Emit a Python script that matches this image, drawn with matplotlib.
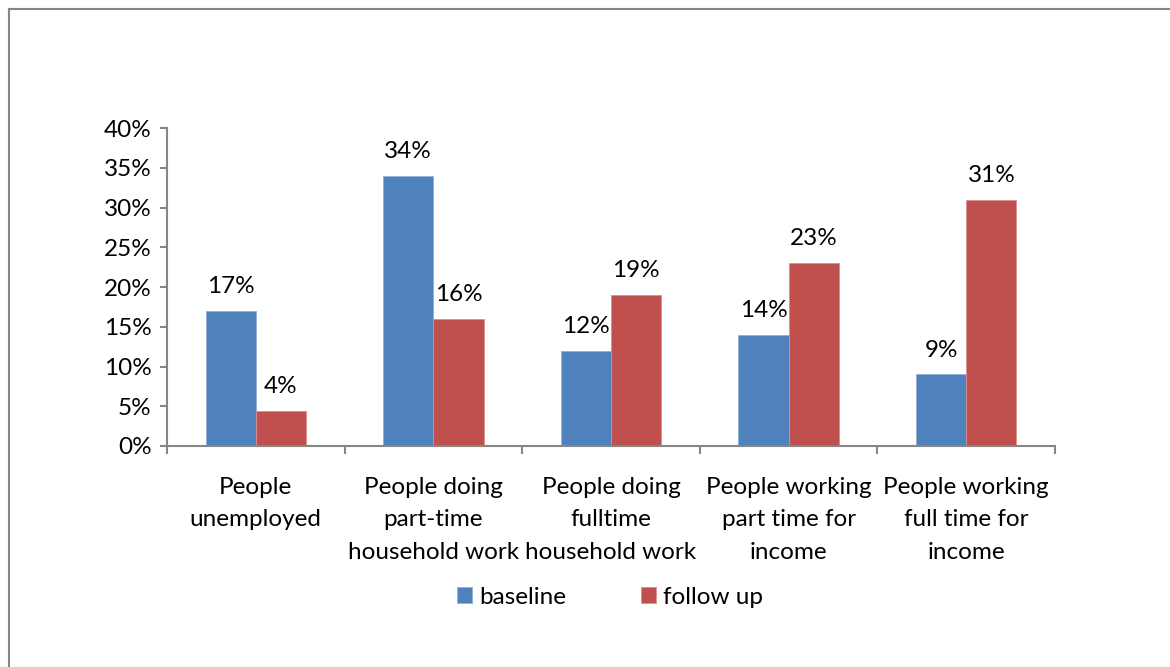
import numpy as np
from matplotlib import pyplot as plt
from matplotlib.lines import Line2D

categories = ["People\nunemployed",
              "People doing\npart-time\nhousehold work",
              "People doing\nfulltime\nhousehold work",
              "People working\npart time for\nincome",
              "People working\nfull time for\nincome"]
baseline = [17, 34, 12, 14, 9]
follow_up = [4.4, 16, 19, 23, 31]
baseline_labels = ["17%", "34%", "12%", "14%", "9%"]
follow_labels = ["4%", "16%", "19%", "23%", "31%"]
yticks = [0, 5, 10, 15, 20, 25, 30, 35, 40]

plt.rcParams['font.family'] = ['Lato', 'DejaVu Sans']
axis_col = "#868686"
fs = 17.5

fig = plt.figure(figsize=(11.7, 6.67), dpi=100)
ax = fig.add_axes([167/1170, 1-446/667, (1055-167)/1170, (446-128)/667])

x = np.arange(len(categories))
w = 0.283
b1 = ax.bar(x - w/2, baseline, w, color="#4F81BD", edgecolor="#8FB0DA", linewidth=0.6, label="baseline")
b2 = ax.bar(x + w/2, follow_up, w, color="#C0504D", edgecolor="#DA8F8D", linewidth=0.6, label="follow up")

for bars, labs in ((b1, baseline_labels), (b2, follow_labels)):
    for r, t in zip(bars, labs):
        ax.annotate(t, (r.get_x() + r.get_width()/2, r.get_height()),
                    xytext=(0, 10), textcoords="offset points",
                    ha="center", va="bottom", fontsize=fs)

ax.set_xlim(-0.5, len(categories) - 0.5)
ax.set_ylim(0, 40)
ax.set_yticks(yticks)
ax.set_yticklabels([f"{v}%" for v in yticks], fontsize=fs)
ax.set_xticks(x)
ax.set_xticklabels(categories, fontsize=fs, linespacing=1.68)
ax.set_xticks(np.arange(-0.5, len(categories)), minor=True)
ax.tick_params(axis="x", which="major", length=0, pad=22)
ax.tick_params(axis="x", which="minor", length=6, color=axis_col, width=1.5)
ax.tick_params(axis="y", length=5, color=axis_col, width=1.5, pad=6)

for s in ("top", "right"):
    ax.spines[s].set_visible(False)
for s in ("left", "bottom"):
    ax.spines[s].set_color(axis_col)
    ax.spines[s].set_linewidth(1.5)

ax.legend(loc="center", bbox_to_anchor=(610/1170, 1-597/667), bbox_transform=fig.transFigure,
          ncol=2, frameon=False, fontsize=fs, handlelength=0.6, handleheight=0.6,
          handletextpad=0.3, columnspacing=3.1)

# outer chart border (left and top only visible)
fig.add_artist(Line2D([9/1170, 9/1170], [0, 1-9/667], color=axis_col, lw=1.5, transform=fig.transFigure))
fig.add_artist(Line2D([9/1170, 1], [1-9/667, 1-9/667], color=axis_col, lw=1.5, transform=fig.transFigure))

fig.savefig("out.png", dpi=100)
